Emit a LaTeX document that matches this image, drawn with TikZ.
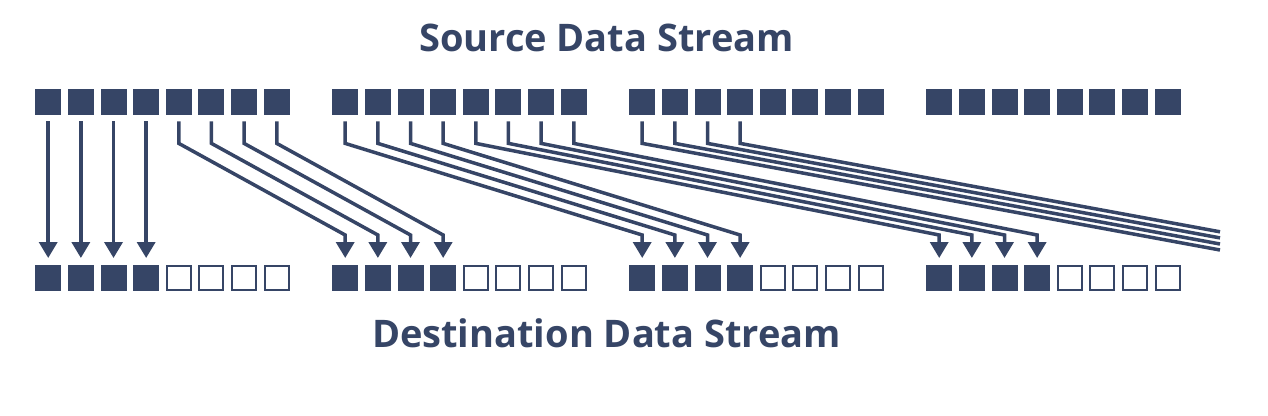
\documentclass[tikz,border=0pt]{standalone}
\usepackage{fontspec}
\setsansfont{Open Sans}
\usepackage{tikz}
\usetikzlibrary{arrows.meta}
\definecolor{streamblue}{HTML}{364566}

\begin{document}
\begin{tikzpicture}[x=1pt, y=-1pt,
    cell/.style={minimum size=26pt, inner sep=0pt, anchor=north west},
    filled/.style={cell, fill=streamblue},
    hollow/.style={cell, draw=streamblue, line width=2pt, minimum size=24pt, fill=white},
    flow/.style={draw=streamblue, line width=3.5pt, shorten <=6pt},
    push/.style={flow, -{Triangle[width=18pt,length=16pt]}, shorten >=7pt},
    title/.style={font=\sffamily\bfseries\fontsize{38}{44}\selectfont, text=streamblue, anchor=base}]
    \useasboundingbox (0,0) rectangle (1268,415);

    % Titles
    \node[title] (source) at (606.5,51.5) {Source Data Stream};
    \node[title] (dest) at (606.5,347.3) {Destination Data Stream};

    % Source stream: four groups of eight
    \foreach \g in {1,...,4}
        \foreach \k in {1,...,8}
            \node[filled] (src-\g-\k) at ({35+297*(\g-1)+32.65*(\k-1)},89) {};

    % Destination stream: four used, four free
    \foreach \g in {1,...,4} {
        \foreach \k in {1,...,4}
            \node[filled] (dst-\g-\k) at ({35+297*(\g-1)+32.65*(\k-1)},265) {};
        \foreach \k in {5,...,8}
            \node[hollow] (dst-\g-\k) at ({35+297*(\g-1)+32.65*(\k-1)},265) {};
    }

    % Straight copies
    \foreach \k in {1,...,4}
        \draw[push] (src-1-\k.south) -- (dst-1-\k.north);

    % Shifted copies
    \foreach \k [evaluate=\k as \j using int(\k+4)] in {1,...,4} {
        \draw[push] (src-1-\j.south) -- ++(0,28) -- ([yshift=30pt]dst-2-\k.north) -- (dst-2-\k.north);
        \draw[push] (src-2-\k.south) -- ++(0,28) -- ([yshift=30pt]dst-3-\k.north) -- (dst-3-\k.north);
        \draw[push] (src-2-\j.south) -- ++(0,28) -- ([yshift=30pt]dst-4-\k.north) -- (dst-4-\k.north);
    }

    % Going on past the edge
    \foreach \k/\ey in {1/250,2/244,3/237.9,4/231.8} {
        \coordinate (exit-\k) at (1220,\ey);
        \draw[flow] (src-3-\k.south) -- ++(0,28) -- (exit-\k);
    }
\end{tikzpicture}
\end{document}
